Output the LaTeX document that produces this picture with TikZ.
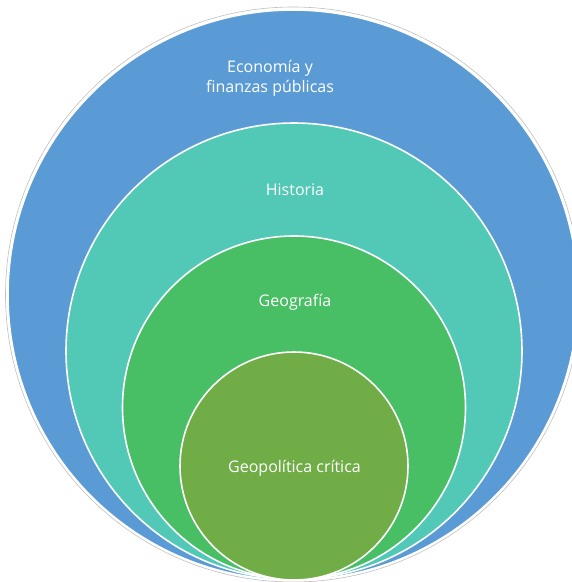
\documentclass[tikz,border=0pt]{standalone}
\usepackage{fontspec}
\setmainfont{Open Sans}
\definecolor{cblue}{HTML}{5B9BD5}
\definecolor{cteal}{HTML}{51C9B6}
\definecolor{cgreen}{HTML}{48BF64}
\definecolor{colive}{HTML}{70AD47}
\begin{document}
\begin{tikzpicture}[x=1pt,y=-1pt,
  ring/.style={draw=white,line width=1.6pt},
  lbl/.style={text=white,font=\fontsize{16}{20}\selectfont,align=center,inner sep=0pt},
  shadowline/.style={draw=black!25,line width=0.6pt}]
\useasboundingbox (0,0) rectangle (572,582);
\clip (0,0) rectangle (572,582);
\draw[shadowline] (293,294.5) circle (287.5);
\path[fill=cblue,ring] (293,295) circle (285);
\path[fill=cteal,ring] (294,351) circle (228);
\path[fill=cgreen,ring] (294,407.5) circle (171.5);
\path[fill=colive,ring] (294,466) circle (114);
\node[lbl] (eco) at (270,78) {Economía y\\finanzas públicas};
\node[lbl] (his) at (295,190) {Historia};
\node[lbl] (geo) at (295,302) {Geografía};
\node[lbl] (gpc) at (294.5,468) {Geopolítica crítica};
\end{tikzpicture}
\end{document}
